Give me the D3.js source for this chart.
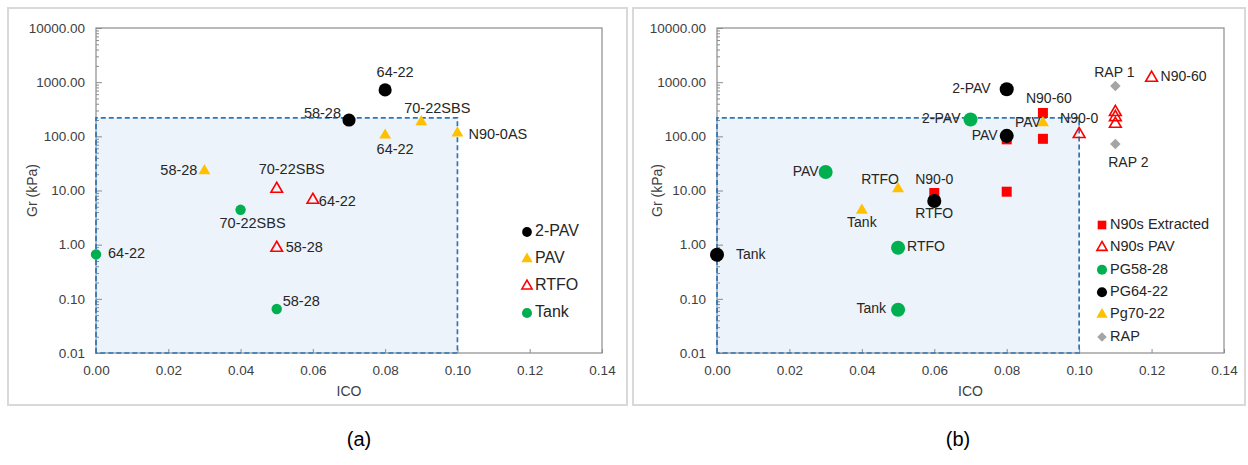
<!DOCTYPE html>
<html>
<head>
<meta charset="utf-8">
<script src="https://cdn.jsdelivr.net/npm/d3@7"></script>
<style>
  body { margin: 0; background: #fff; }
  text { font-family: "Liberation Sans", Arial, sans-serif; }
</style>
</head>
<body>
<script>
// axis values
var icoTicks = [0, 0.02, 0.04, 0.06, 0.08, 0.10, 0.12, 0.14];
var grTicks = [0.01, 0.1, 1, 10, 100, 1000, 10000];
var icoLimit = 0.10;
var grLimit = 220;

// panel (a): [ICO, Gr, label]
var aNames = ["2-PAV", "PAV", "RTFO", "Tank"];
var a2PAV = [[0.07, 200, "58-28"], [0.08, 720, "64-22"]];
var aPAV = [[0.03, 23, "58-28"], [0.08, 105, "64-22"], [0.09, 185, "70-22SBS"], [0.10, 115, "N90-0AS"]];
var aRTFO = [[0.05, 10.7, "70-22SBS"], [0.06, 6.7, "64-22"], [0.05, 0.87, "58-28"]];
var aTank = [[0.04, 4.4, "70-22SBS"], [0, 0.66, "64-22"], [0.05, 0.065, "58-28"]];

// panel (b)
var bNames = ["N90s Extracted", "N90s PAV", "PG58-28", "PG64-22", "Pg70-22", "RAP"];
var bExtracted = [[0.06, 9, "N90-0"], [0.08, 9.5, ""], [0.08, 88, ""], [0.09, 90, ""], [0.09, 270, "N90-60"]];
var bN90PAV = [[0.10, 110, "N90-0"], [0.12, 1200, "N90-60"], [0.11, 280, ""], [0.11, 225, ""], [0.11, 170, ""]];
var bPG5828 = [[0.03, 22, "PAV"], [0.07, 205, "2-PAV"], [0.05, 0.88, "RTFO"], [0.05, 0.063, "Tank"]];
var bPG6422 = [[0, 0.65, "Tank"], [0.06, 6.4, "RTFO"], [0.08, 102, "PAV"], [0.08, 740, "2-PAV"]];
var bPg7022 = [[0.04, 4.3, "Tank"], [0.05, 10.7, "RTFO"], [0.09, 177, "PAV"]];
var bRAP = [[0.11, 850, "RAP 1"], [0.11, 72, "RAP 2"]];

var width = 1248, height = 465;
var YEL = "#ffc000", RED = "#ff0000", GRN = "#00b050", GRY = "#a5a5a5";

var svg = d3.select("body").append("svg")
    .attr("width", width)
    .attr("height", height);

svg.append("rect").attr("width", width).attr("height", height).attr("fill", "#fff");

// marker styles
function markerAttrs(sel, m) {
  var type = m.shape == "circle" ? d3.symbolCircle
           : m.shape == "square" || m.shape == "diamond" ? d3.symbolSquare
           : d3.symbolTriangle;
  sel.attr("d", d3.symbol().type(type).size(m.size))
    .attr("fill", m.open ? "none" : m.color)
    .attr("stroke", m.open ? m.color : "none")
    .attr("stroke-width", m.open ? 1.6 : 0);
}

function drawPanel(p) {
  var g = svg.append("g");

  g.append("rect")
    .attr("x", p.frame[0]).attr("y", p.frame[1])
    .attr("width", p.frame[2]).attr("height", p.frame[3])
    .attr("fill", "#fff").attr("stroke", "#d9d9d9").attr("stroke-width", 2);

  var x = d3.scaleLinear().domain([0, 0.14]).range([p.x0, p.x1]);
  var y = d3.scaleLog().domain([0.01, 10000]).range([p.y1, p.y0]);

  // shaded limit region
  g.append("rect")
    .attr("x", x(0)).attr("y", y(grLimit))
    .attr("width", x(icoLimit) - x(0)).attr("height", y(0.01) - y(grLimit))
    .attr("fill", "#edf3fa");

  // plot box
  g.append("rect")
    .attr("x", p.x0).attr("y", p.y0)
    .attr("width", p.x1 - p.x0).attr("height", p.y1 - p.y0)
    .attr("fill", "none").attr("stroke", "#8c8c8c").attr("stroke-width", 1.2);

  // minor y ticks
  var minor = y.ticks().filter(function(v) { return grTicks.indexOf(v) < 0; });
  var ym = g.append("g").attr("transform", "translate(" + p.x0 + ",0)")
    .call(d3.axisLeft(y).tickValues(minor).tickSize(-3).tickFormat(""));
  ym.select(".domain").remove();
  ym.selectAll("line").attr("stroke", "#8c8c8c");

  var ya = g.append("g").attr("transform", "translate(" + p.x0 + ",0)")
    .call(d3.axisLeft(y).tickValues(grTicks).tickSize(-6).tickPadding(11).tickFormat(d3.format(".2f")));
  ya.select(".domain").remove();
  ya.selectAll("line").attr("stroke", "#8c8c8c");
  ya.selectAll("text").attr("font-size", "13.5px").attr("fill", "#404040")
    .style("font-family", "Liberation Sans, Arial, sans-serif");

  var xa = g.append("g").attr("transform", "translate(0," + p.y1 + ")")
    .call(d3.axisBottom(x).tickValues(icoTicks).tickSize(-4).tickPadding(12).tickFormat(d3.format(".2f")));
  xa.select(".domain").remove();
  xa.selectAll("line").attr("stroke", "#8c8c8c");
  xa.selectAll("text").attr("font-size", "13.5px").attr("fill", "#404040")
    .style("font-family", "Liberation Sans, Arial, sans-serif");

  // dashed limit line
  g.append("path")
    .attr("d", "M" + x(0) + "," + y(0.01) + "V" + y(grLimit) + "H" + x(icoLimit) + "V" + y(0.01) + "Z")
    .attr("fill", "none").attr("stroke", "#2e75b6").attr("stroke-width", 1.7)
    .attr("stroke-dasharray", "5,3");

  g.append("text")
    .attr("x", (p.x0 + p.x1) / 2).attr("y", 392)
    .attr("text-anchor", "middle").attr("dominant-baseline", "middle")
    .attr("font-size", "14px").attr("fill", "#404040")
    .text("ICO");

  g.append("text")
    .attr("transform", "translate(" + p.yTitleX + "," + (p.y0 + p.y1) / 2 + ") rotate(-90)")
    .attr("text-anchor", "middle").attr("dominant-baseline", "middle")
    .attr("font-size", "14px").attr("fill", "#404040")
    .text("Gr (kPa)");

  // points and labels
  p.series.forEach(function(s, si) {
    var m = p.markers[si];
    var pts = g.append("g");
    pts.selectAll("path").data(s).join("path")
      .attr("transform", function(d) {
        return "translate(" + x(d[0]) + "," + y(d[1]) + ")" + (m.shape == "diamond" ? " rotate(45)" : "");
      })
      .call(markerAttrs, m);
    pts.selectAll("text").data(s).join("text")
      .attr("x", function(d, i) { return x(d[0]) + p.labelPos[si][i][0]; })
      .attr("y", function(d, i) { return y(d[1]) + p.labelPos[si][i][1]; })
      .attr("text-anchor", function(d, i) { return p.labelPos[si][i][2]; })
      .attr("dominant-baseline", "middle")
      .attr("font-size", p.labelSize).attr("fill", "#262626")
      .text(function(d) { return d[2]; });
  });

  // legend
  var lg = g.append("g");
  p.names.forEach(function(n, i) {
    var m = p.markers[i];
    var ly = p.legend[1] + i * p.legend[2];
    lg.append("path")
      .attr("transform", "translate(" + p.legend[0] + "," + ly + ")" + (m.shape == "diamond" ? " rotate(45)" : ""))
      .call(markerAttrs, Object.assign({}, m, { size: m.legendSize }));
    lg.append("text")
      .attr("x", p.legend[0] + 8).attr("y", ly)
      .attr("dominant-baseline", "middle")
      .attr("font-size", p.legendFont).attr("fill", "#262626")
      .text(n);
  });
}

drawPanel({
  frame: [8, 8, 619, 397],
  x0: 96, x1: 602, y0: 28, y1: 353, yTitleX: 33,
  names: aNames,
  series: [a2PAV, aPAV, aRTFO, aTank],
  markers: [
    { shape: "circle", color: "#000", size: 135, legendSize: 75 },
    { shape: "triangle", color: YEL, size: 60, legendSize: 55 },
    { shape: "triangle", color: RED, open: true, size: 58, legendSize: 45 },
    { shape: "circle", color: GRN, size: 85, legendSize: 80 }
  ],
  labelPos: [
    [[-8, -6, "end"], [10, -17, "middle"]],
    [[-7, 0, "end"], [10, 15, "middle"], [16, -13, "middle"], [11, 2, "start"]],
    [[15, -19, "middle"], [6, 2, "start"], [9, 0, "start"]],
    [[12, 14, "middle"], [12, 0, "start"], [6, -7, "start"]]
  ],
  labelSize: "14.5px",
  legend: [527, 232, 27],
  legendFont: "16px"
});

drawPanel({
  frame: [633, 8, 612, 397],
  x0: 717, x1: 1224, y0: 28, y1: 353, yTitleX: 658,
  names: bNames,
  series: [bExtracted, bN90PAV, bPG5828, bPG6422, bPg7022, bRAP],
  markers: [
    { shape: "square", color: RED, size: 100, legendSize: 75 },
    { shape: "triangle", color: RED, open: true, size: 60, legendSize: 45 },
    { shape: "circle", color: GRN, size: 155, legendSize: 80 },
    { shape: "circle", color: "#000", size: 155, legendSize: 80 },
    { shape: "triangle", color: YEL, size: 62, legendSize: 55 },
    { shape: "diamond", color: GRY, size: 55, legendSize: 45 }
  ],
  labelPos: [
    [[0, -13, "middle"], [0, 0, "start"], [0, 0, "start"], [0, 0, "start"], [6, -14, "middle"]],
    [[0, -15, "middle"], [9, -1, "start"], [0, 0, "start"], [0, 0, "start"], [0, 0, "start"]],
    [[-7, 0, "end"], [-10, 0, "end"], [9, 0, "start"], [-12, 0, "end"]],
    [[19, 0, "start"], [0, 13, "middle"], [-9, 0, "end"], [-16, 0, "end"]],
    [[0, 13, "middle"], [-18, -9, "middle"], [-2, 0, "end"]],
    [[-1, -13, "middle"], [13, 19, "middle"]]
  ],
  labelSize: "14px",
  legend: [1102, 225, 22.4],
  legendFont: "14.5px"
});

svg.append("text").attr("x", 359).attr("y", 441)
  .attr("text-anchor", "middle").attr("dominant-baseline", "middle")
  .attr("font-size", "20px").attr("fill", "#000").text("(a)");
svg.append("text").attr("x", 958).attr("y", 441)
  .attr("text-anchor", "middle").attr("dominant-baseline", "middle")
  .attr("font-size", "20px").attr("fill", "#000").text("(b)");
</script>
</body>
</html>
